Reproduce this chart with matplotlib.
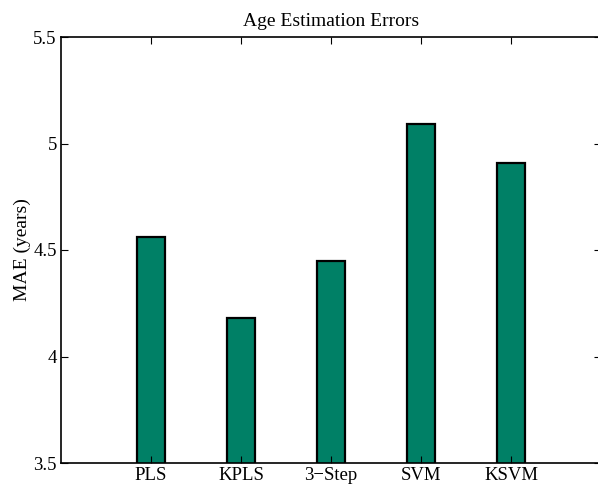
import matplotlib
matplotlib.use("Agg")
import matplotlib.pyplot as plt

methods = ["PLS", "KPLS", "3\u2212Step", "SVM", "KSVM"]
mae = [4.56, 4.18, 4.45, 5.09, 4.91]
yticks = [3.5, 4, 4.5, 5, 5.5]
ylabels = ["3.5", "4", "4.5", "5", "5.5"]

plt.rcParams["font.family"] = ["Liberation Serif", "DejaVu Serif"]

fig = plt.figure(figsize=(5.98, 4.88), dpi=100)
ax = fig.add_axes([61/598, 25/488, 540/598, 426/488])

pos = list(range(1, len(methods)+1))
ax.bar(pos, mae, width=0.31, bottom=0, color="#008066", edgecolor="black", linewidth=1.6)

ax.set_xlim(0, 6)
ax.set_ylim(3.5, 5.5)
ax.set_xticks(pos)
ax.set_xticklabels(methods, fontsize=13.5)
ax.set_yticks(yticks)
ax.set_yticklabels(ylabels, fontsize=13.5)
ax.tick_params(direction="in", length=5, width=0.8, top=True, right=True, pad=3)
for s in ax.spines.values():
    s.set_linewidth(1.2)
ax.set_ylabel("MAE (years)", fontsize=14, labelpad=2)
ax.set_title("Age Estimation Errors", fontsize=14, pad=8)

fig.savefig("out.png", dpi=100)
